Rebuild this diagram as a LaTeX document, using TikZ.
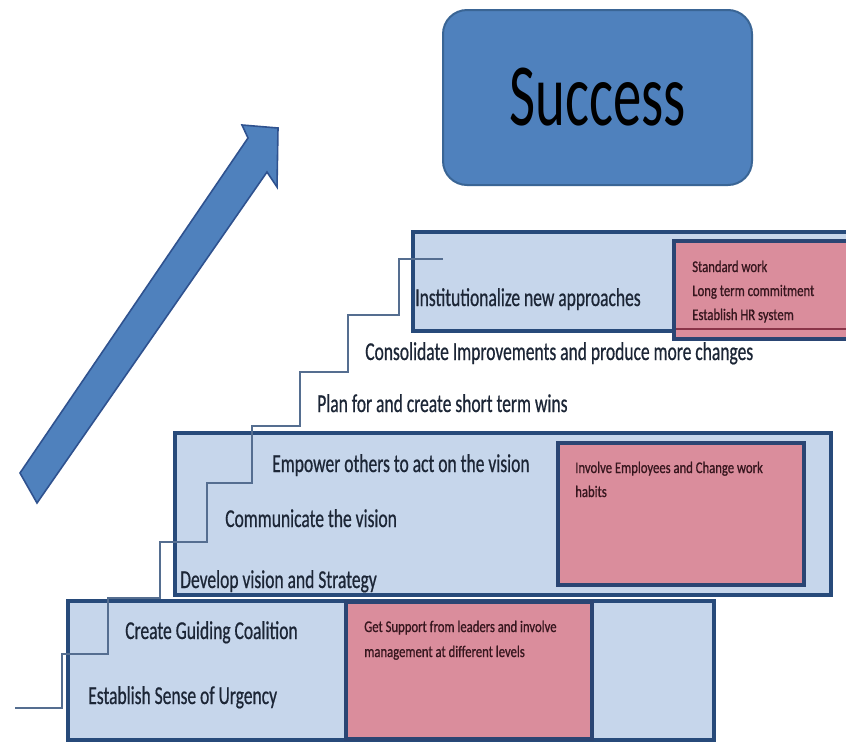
\documentclass[tikz,border=0pt]{standalone}
\usepackage{fontspec}
\setmainfont{Carlito}
\newfontfamily\stepfont[FakeStretch=0.68,FakeBold=0.6]{Carlito}
\newfontfamily\notefont[FakeStretch=0.78,FakeBold=0.8]{Carlito}
\newfontfamily\bigfont[FakeStretch=0.64]{Carlito}
\definecolor{tierfill}{HTML}{C6D6EB}
\definecolor{tierline}{HTML}{274A7A}
\definecolor{notefill}{HTML}{DA8D9C}
\definecolor{noteline}{HTML}{2A4573}
\definecolor{noteedge}{HTML}{8A3448}
\definecolor{boldblue}{HTML}{4F81BD}
\definecolor{boldline}{HTML}{3A6595}
\definecolor{arrowline}{HTML}{2F528F}
\definecolor{stairline}{HTML}{556E90}
\definecolor{labeltext}{HTML}{1C2636}
\definecolor{notetext}{HTML}{36161E}
\tikzset{
  tier/.style={draw=tierline, fill=tierfill, line width=2.8pt},
  notebox/.style={draw=noteline, fill=notefill, line width=2.5pt},
  stair/.style={draw=stairline, line width=1.4pt},
  steplabel/.style={font=\stepfont\fontsize{19.3}{23}\selectfont, text=labeltext, inner sep=0pt, anchor=base west},
  notelabel/.style={font=\notefont\fontsize{12.2}{14}\selectfont, text=notetext, inner sep=0pt, anchor=base west},
}
\begin{document}
\begin{tikzpicture}[x=0.75pt,y=-0.75pt]
\useasboundingbox (0,0) rectangle (846,743);
\fill[white] (0,0) rectangle (846,743);

% success box
\node[draw=boldline, fill=boldblue, line width=1.5pt, rounded corners=18pt,
      minimum width=231.75pt, minimum height=131.25pt, inner sep=0pt,
      font=\bigfont\fontsize{66.5}{70}\selectfont, text=black] (success) at (597.5,97.5) {Success};

% rising arrow
\draw[draw=arrowline, fill=boldblue, line width=1.2pt, line join=miter]
  (20,473) -- (248,138) -- (242,125) -- (278,128) -- (277,187) -- (267,172) -- (37,503) -- cycle;

% top tier
\draw[tier] (413,232) rectangle (870,331);
\draw[notebox] (674,241) rectangle (870,339);
\draw[draw=noteedge, line width=1.8pt] (676,329) -- (870,329);

% middle tier
\draw[tier] (175,433) rectangle (831,595);
\draw[notebox] (558,443) rectangle (804,585);

% bottom tier
\draw[tier] (68,601) rectangle (714,740);
\draw[notebox] (346,602) rectangle (592,739);

% stair line
\draw[stair] (15,708) -- (62,708) -- (62,654) -- (108,654) -- (108,598) -- (160,598)
  -- (160,542) -- (207,542) -- (207,483) -- (252,483) -- (252,426) -- (300,426)
  -- (300,372) -- (348,372) -- (348,315) -- (399,315) -- (399,259) -- (443,259);

% step labels
\node[steplabel] (s1) at (88,704) {Establish Sense of Urgency};
\node[steplabel] (s2) at (125,639) {Create Guiding Coalition};
\node[steplabel] (s3) at (180,588) {Develop vision and Strategy};
\node[steplabel] (s4) at (225,527) {Communicate the vision};
\node[steplabel] (s5) at (272,472) {Empower others to act on the vision};
\node[steplabel] (s6) at (317,412) {Plan for and create short term wins};
\node[steplabel] (s7) at (365,360) {Consolidate Improvements and produce more changes};
\node[steplabel] (s8) at (415,306) {Institutionalize new approaches};

% note texts
\node[notelabel] (n1a) at (364,632) {Get Support from leaders and involve};
\node[notelabel] (n1b) at (364,657) {management at different levels};
\node[notelabel] (n2a) at (575,473) {Involve Employees and Change work};
\node[notelabel] (n2b) at (575,497) {habits};
\node[notelabel] (n3a) at (692,272) {Standard work};
\node[notelabel] (n3b) at (692,296) {Long term commitment};
\node[notelabel] (n3c) at (692,320) {Establish HR system};
\end{tikzpicture}
\end{document}
